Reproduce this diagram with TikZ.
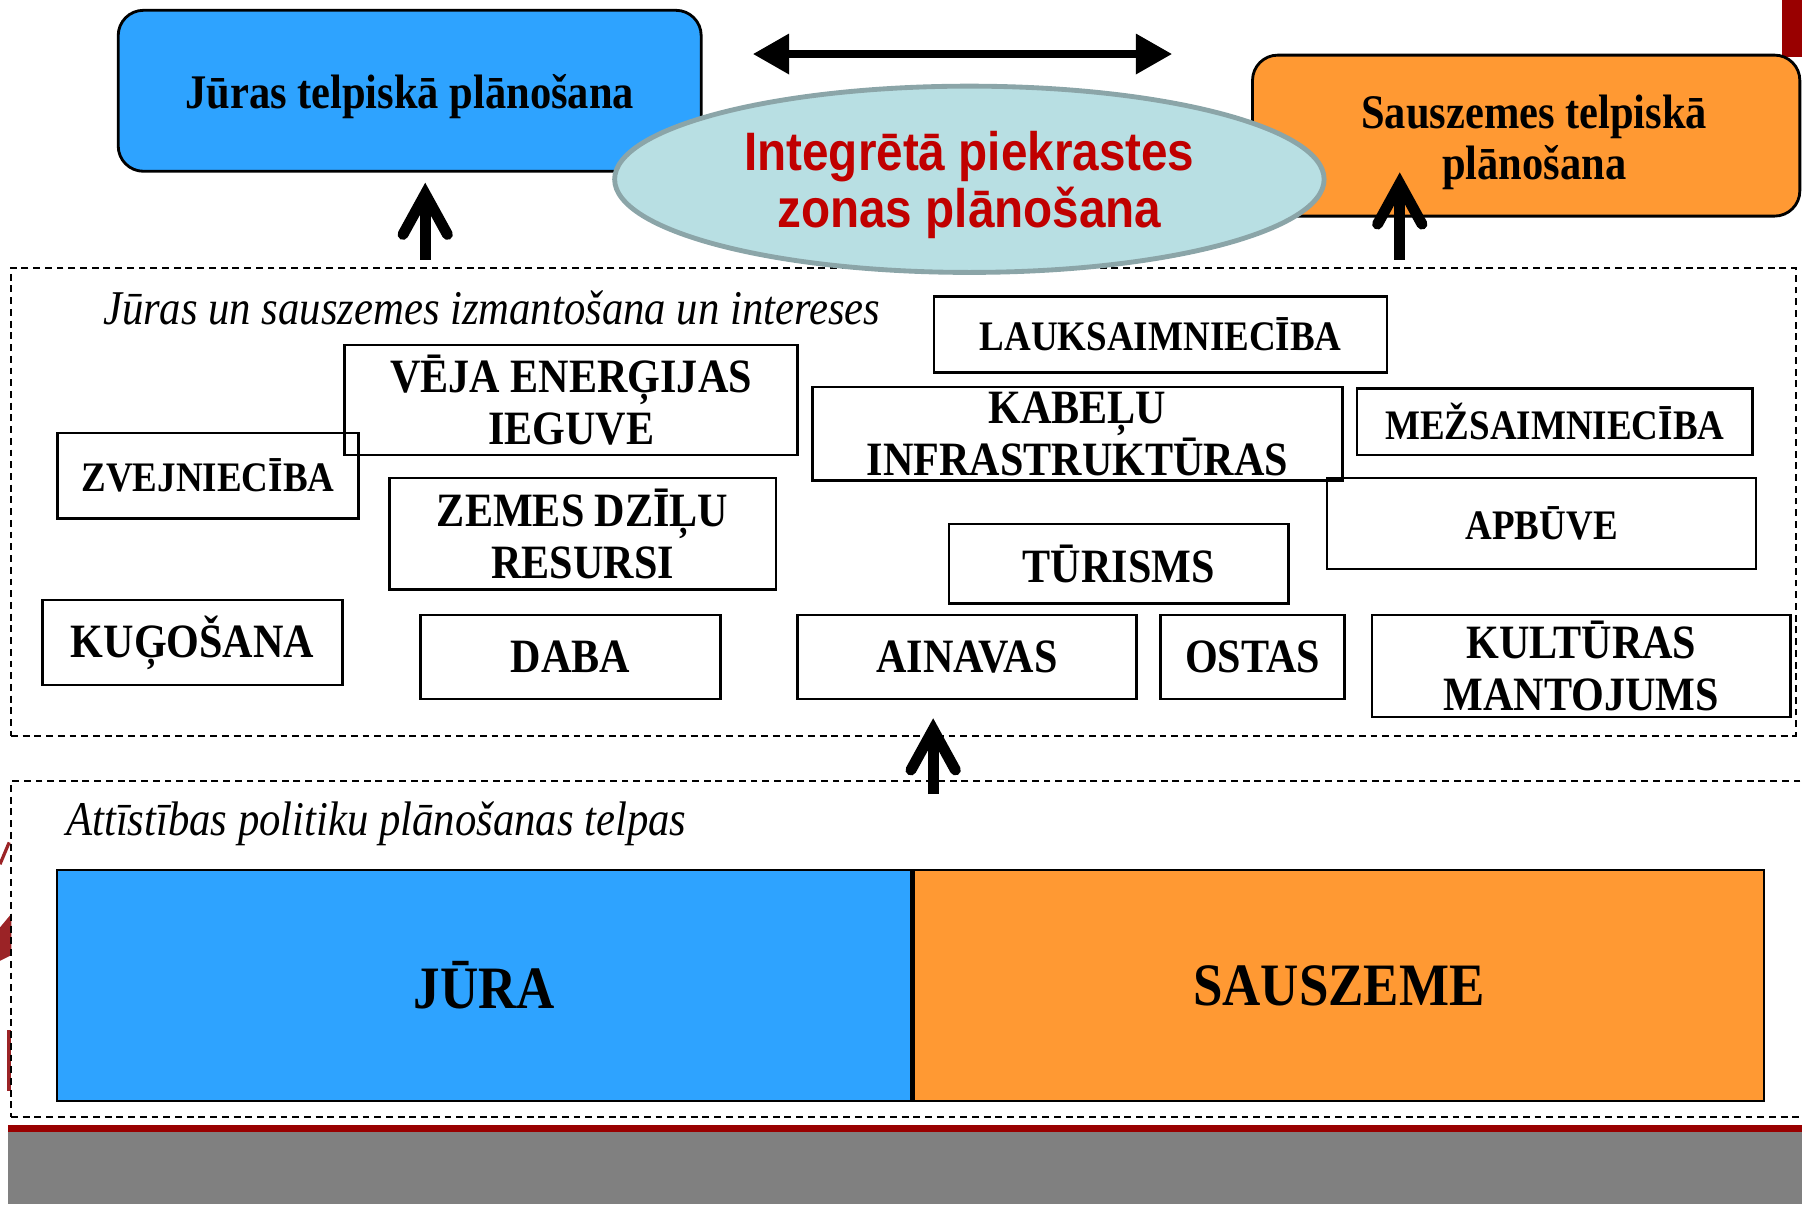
\documentclass[tikz,border=0pt]{standalone}
\usepackage{fontspec}
\setmainfont[FakeStretch=0.88]{Liberation Serif}
\newfontfamily\zoneFont[FakeStretch=0.88]{Liberation Sans}
\usetikzlibrary{positioning,shapes.geometric,arrows.meta}
\definecolor{seaColor}{RGB}{46,163,255}
\definecolor{landColor}{RGB}{255,153,51}
\definecolor{zoneFill}{RGB}{184,223,227}
\definecolor{zoneBorder}{RGB}{139,165,168}
\definecolor{zoneText}{RGB}{192,0,0}
\definecolor{stripeColor}{RGB}{153,0,0}
\definecolor{footColor}{RGB}{128,128,128}
\definecolor{logoColor}{RGB}{155,35,38}
\tikzstyle{canvas} = [x = 0.01cm, y = -0.01cm]
\tikzstyle{planStyle} = [draw=black, line width=0.7pt, rounded corners=0.22cm, inner sep=0pt]
\tikzstyle{planText} = [align=center, inner sep=0pt, font=\fontsize{11.95}{12.8}\selectfont\bfseries]
\tikzstyle{useBoxStyle} = [draw=black, line width=0.6pt, align=center, inner sep=0pt, font=\fontsize{11.84}{12.8}\selectfont\bfseries]
\tikzstyle{smallText} = [font=\fontsize{10.4}{12}\selectfont\bfseries]
\tikzstyle{frameStyle} = [draw=black, line width=0.55pt, dash pattern=on 1.7pt off 1.2pt, inner sep=0pt]
\tikzstyle{frameLabel} = [anchor=west, inner sep=0pt, font=\fontsize{12}{14}\selectfont\itshape]
\tikzstyle{spaceStyle} = [draw=black, line width=0.6pt, inner sep=0pt, font=\fontsize{14.9}{16}\selectfont\bfseries]
\tikzstyle{upArrow} = [line width=2.7pt, -{Straight Barb[length=10pt, width=11pt, line cap=round, line join=miter]}]
\tikzstyle{linkArrow} = [line width=2.1pt, {Triangle[length=9pt, width=9.5pt]}-{Triangle[length=9pt, width=9.5pt]}]
\newcommand{\useBox}[6][]{\node [useBoxStyle, #1, minimum width=#4cm, minimum height=#5cm] (#2) at (#3) {#6};}

\begin{document}
\begin{tikzpicture}[canvas]
    \useasboundingbox (0,0) rectangle (1568,1048);
    % logo pieces on the left edge and the stripe on the right
    \fill [stripeColor] (1551,0) rectangle (1568,50);
    \draw [logoColor, line width=0.8pt] (0,752) -- (8,733);
    \fill [logoColor] (0,807) -- (10,795) -- (10,831) -- (0,836) -- cycle;
    \fill [logoColor] (6,896) rectangle (10,949);
    % planning levels
    \node [planStyle, fill=seaColor, minimum width=5.07cm, minimum height=1.40cm] (seaPlan) at (356.5,79) {};
    \node [planText] (seaPlanText) at ([yshift=-1.4pt]seaPlan.center) {Jūras telpiskā plānošana};
    \node [planStyle, fill=landColor, minimum width=4.76cm, minimum height=1.40cm] (landPlan) at (1328,118) {};
    \node [planText] (landPlanText) at ([xshift=2pt, yshift=-1.7pt]landPlan.center) {Sauszemes telpiskā\\plānošana};
    \node [frameStyle, minimum width=15.52cm, minimum height=4.07cm] (usesFrame) at (786,436.5) {};
    \node [ellipse, draw=zoneBorder, line width=1.2pt, fill=zoneFill, minimum width=6.17cm, minimum height=1.62cm, inner sep=0pt] (coastZone) at (843.5,156) {};
    \node [align=center, inner sep=0pt, text=zoneText, font=\zoneFont\fontsize{13.4}{14.2}\selectfont\bfseries] (coastZoneText) at ([yshift=-1.4pt]coastZone.center) {Integrētā piekrastes\\zonas plānošana};
    \coordinate (linkWest) at (655,47);
    \coordinate (linkEast) at (1020,47);
    \draw [linkArrow] (linkWest) -- (linkEast);
    \coordinate (seaFoot) at (370,226);
    \coordinate (seaTip) at (370,159);
    \draw [upArrow] (seaFoot) -- (seaTip);
    \coordinate (landFoot) at (1218,226);
    \coordinate (landTip) at (1218,150);
    \draw [upArrow] (landFoot) -- (landTip);
    % uses and interests
    \node [frameLabel] (usesLabel) at (89,268) {Jūras un sauszemes izmantošana un intereses};
    \useBox[smallText]{farming}{1010,291}{3.94}{0.66}{LAUKSAIMNIECĪBA}
    \useBox{wind}{497,348}{3.94}{0.96}{VĒJA ENERĢIJAS\\IEGUVE}
    \useBox[smallText]{fishing}{181,414}{2.62}{0.74}{ZVEJNIECĪBA}
    \useBox{cables}{937.5,377.5}{4.61}{0.81}{KABEĻU\\INFRASTRUKTŪRAS}
    \useBox[smallText]{forestry}{1353,367}{3.44}{0.58}{MEŽSAIMNIECĪBA}
    \useBox{minerals}{507,464.5}{3.36}{0.97}{ZEMES DZĪĻU\\RESURSI}
    \useBox[smallText]{building}{1341.5,455.5}{3.73}{0.79}{APBŪVE}
    \useBox{tourism}{973.5,490.5}{2.95}{0.69}{TŪRISMS}
    \useBox{shipping}{167.5,559}{2.61}{0.74}{KUĢOŠANA}
    \useBox{nature}{496.5,571.5}{2.61}{0.73}{DABA}
    \useBox{landscape}{841.5,571.5}{2.95}{0.73}{AINAVAS}
    \useBox{ports}{1090,571.5}{1.60}{0.73}{OSTAS}
    \useBox{heritage}{1376,579.5}{3.64}{0.89}{KULTŪRAS\\MANTOJUMS}
    \coordinate (policyFoot) at (812,691);
    \coordinate (policyTip) at (812,625);
    \draw [upArrow] (policyFoot) -- (policyTip);
    % policy spaces
    \node [frameStyle, minimum width=15.80cm, minimum height=2.92cm] (policyFrame) at (800,826) {};
    \node [frameLabel] (policyLabel) at (57,717) {Attīstības politiku plānošanas telpas};
    \node [spaceStyle, fill=seaColor, minimum width=7.43cm, minimum height=2.01cm] (seaSpace) at (421.5,857.5) {JŪRA};
    \node [spaceStyle, fill=landColor, minimum width=7.39cm, minimum height=2.01cm, right=0pt of seaSpace] (landSpace) {SAUSZEME};
    \fill [stripeColor] (7,979) rectangle (1568,985);
    \fill [footColor] (7,985) rectangle (1568,1048);
\end{tikzpicture}
\end{document}
